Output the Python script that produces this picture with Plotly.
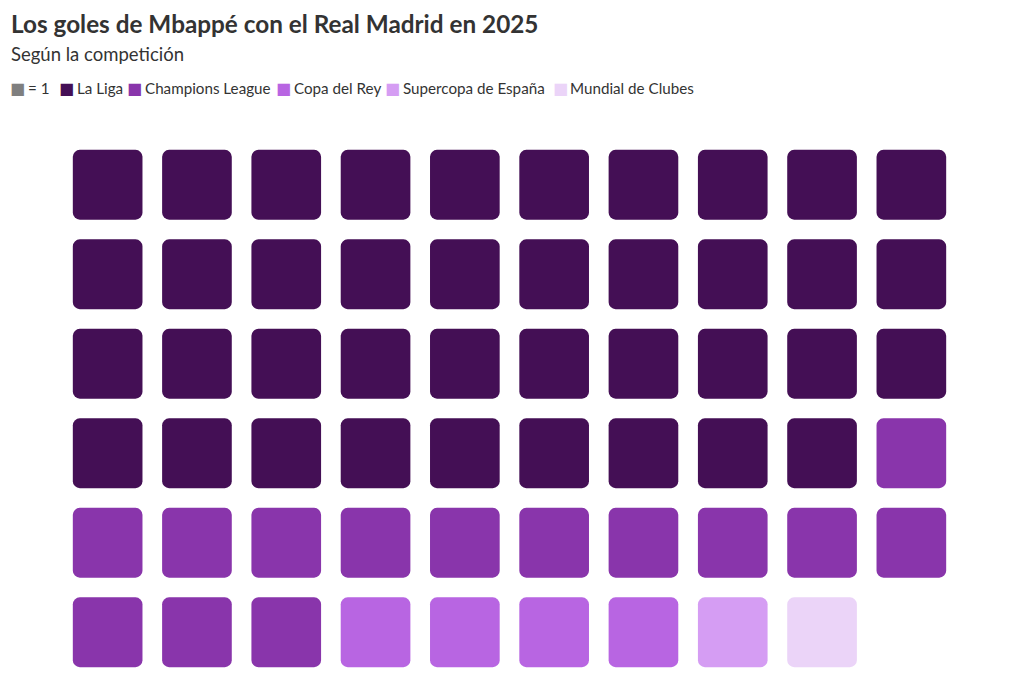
import plotly.graph_objects as go

# ---- data ----
competitions = ["La Liga", "Champions League", "Copa del Rey", "Supercopa de España", "Mundial de Clubes"]
goals = [39, 14, 4, 1, 1]
colors = ["#440F55", "#8935AB", "#B865E2", "#D59DF3", "#EBD4F8"]
columns = 10
unit_label = "= 1"

title = "Los goles de Mbappé con el Real Madrid en 2025"
subtitle = "Según la competición"

# ---- layout geometry (pixels) ----
W, H = 1020, 693
ML, MR, MT, MB = 63, 64, 140, 16
cell = 0.78
pw, ph = W - ML - MR, H - MT - MB

def px_x(px):
    return (px - ML) / pw

def px_y(py):
    return (H - MB - py) / ph

fig = go.Figure()

idx = 0
for name, n, col in zip(competitions, goals, colors):
    xs, bases = [], []
    for _ in range(n):
        r, c = divmod(idx, columns)
        xs.append(c)
        bases.append(r - cell / 2)
        idx += 1
    fig.add_trace(go.Bar(
        x=xs, y=[cell] * n, base=bases, width=cell, name=name,
        marker=dict(color=col, line=dict(width=0), cornerradius=7),
        hovertemplate=name + "<extra></extra>", showlegend=False,
    ))

nrows = (sum(goals) + columns - 1) // columns

fig.update_layout(
    width=W, height=H,
    margin=dict(l=ML, r=MR, t=MT, b=MB),
    paper_bgcolor="white", plot_bgcolor="white",
    barmode="overlay",
    font=dict(family="Lato", color="#333333"),
    xaxis=dict(range=[-0.5, columns - 0.5], visible=False, fixedrange=True),
    yaxis=dict(range=[nrows - 0.5, -0.5], visible=False, fixedrange=True),
    showlegend=False,
)

# title and subtitle
fig.add_annotation(text="<b>" + title + "</b>", xref="paper", yref="paper",
                   x=px_x(9), y=px_y(7), xanchor="left", yanchor="top",
                   showarrow=False, font=dict(size=24.3, color="#333333"))
fig.add_annotation(text=subtitle, xref="paper", yref="paper",
                   x=px_x(9), y=px_y(41), xanchor="left", yanchor="top",
                   showarrow=False, font=dict(size=18.5, color="#333333"))

# legend
legend_items = [(unit_label, "#7F7F7F")] + list(zip(competitions, colors))
swatch_x = [8, 57, 125, 274, 383, 551]
text_x = [26, 75, 143, 292, 401, 568]
ly = 88
for (lab, col), sx, tx in zip(legend_items, swatch_x, text_x):
    fig.add_annotation(text="■", xref="paper", yref="paper", x=px_x(sx), y=px_y(ly),
                       xanchor="left", yanchor="middle", showarrow=False,
                       font=dict(family="DejaVu Sans", size=16, color=col))
    fig.add_annotation(text=lab, xref="paper", yref="paper", x=px_x(tx), y=px_y(ly),
                       xanchor="left", yanchor="middle", showarrow=False,
                       font=dict(size=15.2, color="#333333"))

fig.write_html("out.html", config={"displayModeBar": False})
